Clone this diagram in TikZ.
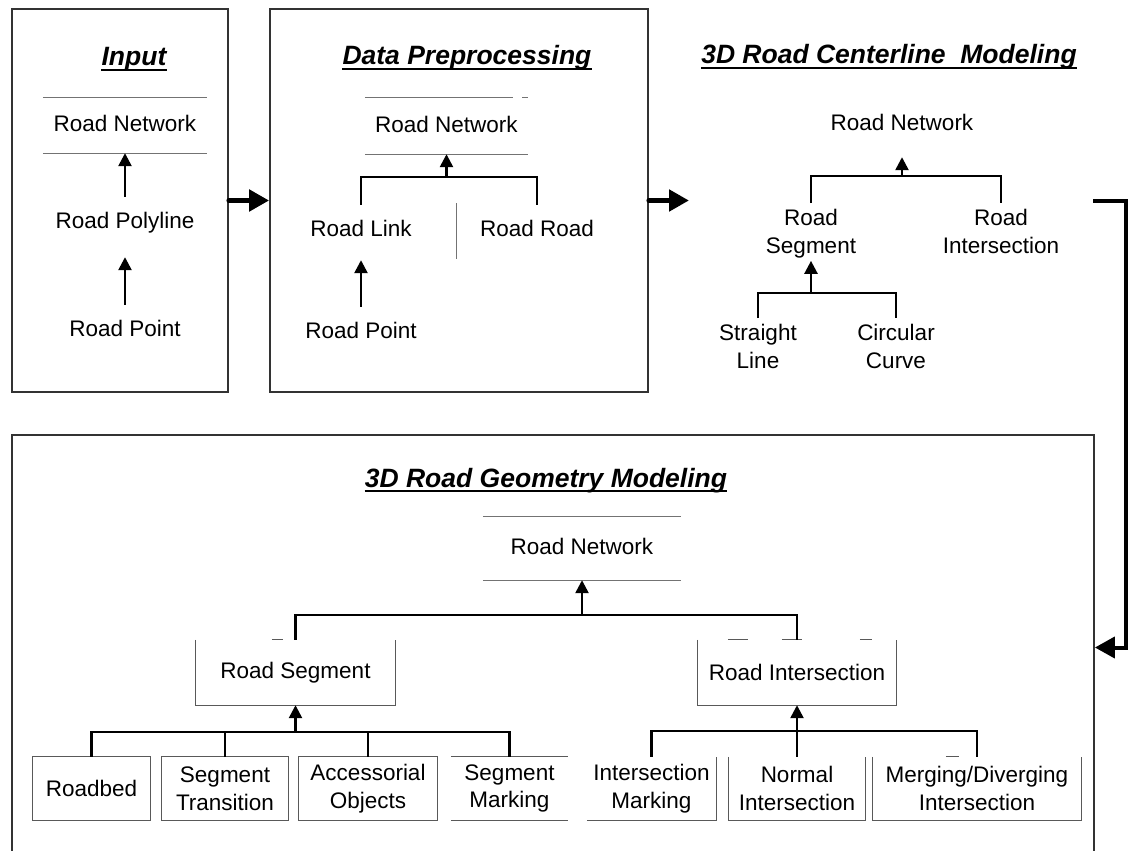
\documentclass[tikz,border=0pt]{standalone}
\usepackage{fontspec}
\setmainfont{Liberation Sans}
\usetikzlibrary{arrows.meta}
\begin{document}
\begin{tikzpicture}[x=1pt,y=-1pt,
  lbl/.style={font=\fontsize{22.5}{27.5}\selectfont, inner xsep=2pt, inner ysep=14.5pt,
              text height=16.5pt, text depth=4.5pt},
  lbltwo/.style={font=\fontsize{22.5}{27.5}\selectfont, align=center, inner xsep=2pt,
              inner ysep=6pt, anchor=north},
  ttl/.style={font=\fontsize{26.5}{30}\selectfont\bfseries\itshape, inner sep=0pt, anchor=base},
  uline/.style={line width=2pt},
  secbox/.style={draw=black!80, line width=1.8pt, inner sep=0pt},
  conn/.style={line width=2.5pt},
  arr/.style={line width=2.5pt, -{Triangle[length=13pt,width=13pt]}},
  bigarr/.style={line width=5pt, line cap=round, -{Triangle[length=20pt,width=21pt]}},
  rule/.style={draw=black!55, line width=1pt},
  cell/.style={font=\fontsize{22.5}{27.5}\selectfont, align=center, inner sep=0pt, minimum height=63pt},
  cellrule/.style={draw=black!65, line width=1.3pt},
]
\useasboundingbox (0,0) rectangle (1128,851);

% ---------- section frames ----------
\node[secbox, minimum width=216pt, minimum height=383pt] (inBox) at (120,200.5) {};
\node[secbox, minimum width=378pt, minimum height=383pt] (dBox) at (459,200.5) {};
\node[secbox, minimum width=1082pt, minimum height=425pt] (gBox) at (553,647.5) {};

% ---------- Input ----------
\node[ttl] (tIn) at (134,66) {Input};
\draw[uline] ([yshift=-4pt]tIn.base west) -- ([yshift=-4pt]tIn.base east);
\node[lbl, minimum width=164pt, minimum height=55pt, inner ysep=0pt] (inNet) at (125,125.5) {Road Network};
\draw[rule] (inNet.north west) -- (inNet.north east);
\draw[rule] (inNet.south west) -- (inNet.south east);
\node[lbl] (inPoly) at (125,222) {Road Polyline};
\node[lbl] (inPt) at (125,330) {Road Point};
\draw[arr] (inPoly.north) -- (inNet.south);
\draw[arr, shorten >=10pt] (inPt.north) -- (inPoly.south);

% ---------- Data Preprocessing ----------
\node[ttl] (tDp) at (467,65) {Data Preprocessing};
\draw[uline] ([yshift=-4pt]tDp.base west) -- ([yshift=-4pt]tDp.base east);
\node[lbl, minimum width=163pt, minimum height=56pt, inner ysep=0pt] (dNet) at (446.5,126) {Road Network};
\draw[rule] (dNet.north west) -- ([xshift=-15pt]dNet.north east);
\draw[rule] ([xshift=-6pt]dNet.north east) -- (dNet.north east);
\draw[rule] (dNet.south west) -- (dNet.south east);
\node[lbl] (dLink) at (361,230) {Road Link};
\node[lbl] (dRoad) at (537,230) {Road Road};
\node[lbl] (dPt) at (361,332) {Road Point};
\coordinate (dJ) at (446.5,177);
\draw[conn] (dLink.north) |- (dJ) -| (dRoad.north);
\draw[arr] (dJ) -- (dNet.south);
\draw[arr, shorten >=5pt] (dPt.north) -- (dLink.south);
\draw[rule] (456,203) -- (456,259);

% ---------- 3D Road Centerline Modeling ----------
\node[ttl] (tCl) at (889,64) {3D Road Centerline\ \ Modeling};
\draw[uline] ([yshift=-4pt]tCl.base west) -- ([yshift=-4pt]tCl.base east);
\node[lbl] (cNet) at (902,125) {Road Network};
\node[lbltwo] (cSeg) at (811,203) {Road\\Segment};
\node[lbltwo] (cInt) at (1001,203) {Road\\Intersection};
\coordinate (cJ) at (902,176);
\draw[conn] (cSeg.north) |- (cJ) -| (cInt.north);
\draw[arr, shorten >=7pt] (cJ) -- (cNet.south);
\node[lbltwo] (cStr) at (758,318) {Straight\\Line};
\node[lbltwo] (cCirc) at (896,318) {Circular\\Curve};
\coordinate (cK) at (811,293);
\draw[conn] (cStr.north) |- (cK) -| (cCirc.north);
\draw[arr] (cK) -- ([yshift=3pt]cSeg.south);

% ---------- 3D Road Geometry Modeling ----------
\node[ttl] (tGm) at (546,487) {3D Road Geometry Modeling};
\draw[uline] ([yshift=-4pt]tGm.base west) -- ([yshift=-4pt]tGm.base east);
\node[lbl, minimum width=198pt, minimum height=63pt, inner ysep=0pt] (gNet) at (582,548.5) {Road Network};
\draw[rule] (gNet.north west) -- (gNet.north east);
\draw[rule] (gNet.south west) -- (gNet.south east);

\node[cell, minimum width=199pt, minimum height=65pt] (gSeg) at (295.5,672.5) {Road Segment};
\node[cell, minimum width=198pt, minimum height=65pt] (gInt) at (797,672.5) {Road Intersection};
\draw[cellrule] (gSeg.north west) -- (gSeg.south west) -- (gSeg.south east) -- (gSeg.north east);
\draw[cellrule] (gInt.north west) -- (gInt.south west) -- (gInt.south east) -- (gInt.north east);
% broken top edges of the two middle boxes
\draw[cellrule] ([xshift=76pt]gSeg.north west) -- ([xshift=87pt]gSeg.north west);
\draw[cellrule] ([xshift=30pt]gInt.north west) -- ([xshift=50pt]gInt.north west);
\draw[cellrule] ([xshift=84pt]gInt.north west) -- ([xshift=104pt]gInt.north west);
\draw[cellrule] ([xshift=162pt]gInt.north west) -- ([xshift=174pt]gInt.north west);
\coordinate (gJ) at (582,615);
\draw[conn] (gSeg.north) |- (gJ) -| (gInt.north);
\draw[arr] (gJ) -- (gNet.south);

\node[cell, minimum width=117pt] (b1) at (91.5,788.5) {Roadbed};
\node[cell, minimum width=126pt] (b2) at (225,788.5) {Segment\\Transition};
\node[cell, minimum width=138pt] (b3) at (368,788.5) {Accessorial\\Objects};
\node[cell, minimum width=117pt] (b4) at (509.5,788.5) {Segment\\Marking};
\node[cell, minimum width=129pt] (b5) at (651.5,788.5) {Intersection\\Marking};
\node[cell, minimum width=136pt] (b6) at (797,788.5) {Normal\\Intersection};
\node[cell, minimum width=208pt] (b7) at (977,788.5) {Merging/Diverging\\Intersection};

\draw[cellrule] (b1.north west) rectangle (b1.south east);
\draw[cellrule] (b2.north west) rectangle (b2.south east);
\draw[cellrule] (b3.north west) rectangle (b3.south east);
\draw[cellrule] (b4.north west) -- (b4.north east);
\draw[cellrule] (b4.south west) -- (b4.south east);
\draw[cellrule] (b5.south west) -- (b5.south east) -- (b5.north east);
\draw[cellrule] (b6.north west) -- (b6.south west) -- (b6.south east) -- (b6.north east);
\draw[cellrule] (b7.north west) -- (b7.south west) -- (b7.south east) -- (b7.north east);
\draw[cellrule] ([xshift=73pt]b7.north west) -- ([xshift=86pt]b7.north west);

\coordinate (gK) at (295.5,732);
\draw[conn] (b1.north) |- (gK) -| (b4.north);
\draw[conn] (b2.north) -- (b2.north |- gK);
\draw[conn] (b3.north) -- (b3.north |- gK);
\draw[arr] (gK) -- (gSeg.south);
\coordinate (gL) at (797,731);
\draw[conn] (b5.north) |- (gL) -| (b7.north);
\draw[arr] (b6.north) -- (gInt.south);

% ---------- flow between stages ----------
\draw[bigarr] (inBox.east) -- (dBox.west);
\coordinate (cIn) at (689,200.5);
\draw[bigarr] (dBox.east) -- (cIn);
\coordinate (cOut) at (1093,200.5);
\coordinate (cBend) at (1126,200.5);
\draw[line width=4pt, -{Triangle[length=20pt,width=21pt]}] (cOut) -- (cBend) |- (gBox.east);
\end{tikzpicture}
\end{document}
